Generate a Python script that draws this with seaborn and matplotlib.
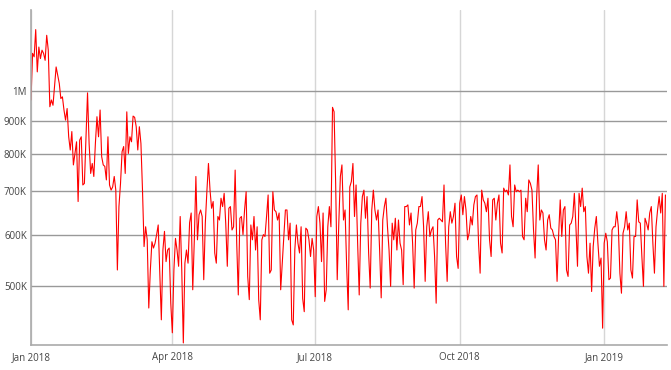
import matplotlib
matplotlib.use("Agg")
import matplotlib.pyplot as plt
import matplotlib.dates as mdates
import matplotlib.ticker as mticker
import seaborn as sns
import pandas as pd

# daily values in thousands, Jan 1 2018 onwards
vals_k = [
    969, 1144, 1130, 1245, 1071, 1170, 1123, 1157, 1144, 1116,
    1220, 1157, 946, 969, 951, 1016, 1090, 1059, 1028, 974,
    980, 935, 902, 940, 850, 811, 866, 769, 801, 835,
    675, 840, 850, 716, 720, 850, 994, 830, 746, 773,
    738, 830, 913, 850, 935, 792, 769, 765, 729, 850,
    716, 703, 711, 738, 703, 529, 663, 720, 806, 821,
    746, 929, 801, 850, 835, 915, 911, 881, 811, 881,
    830, 703, 575, 617, 589, 462, 529, 585, 572, 582,
    600, 621, 523, 443, 568, 607, 545, 568, 572, 470,
    423, 529, 592, 568, 536, 640, 529, 408, 542, 568,
    542, 626, 648, 493, 589, 738, 589, 644, 655, 640,
    511, 625, 700, 773, 703, 659, 675, 562, 542, 640,
    632, 683, 663, 695, 625, 536, 659, 663, 610, 617,
    755, 582, 484, 636, 640, 600, 655, 699, 517, 476,
    621, 589, 640, 568, 617, 476, 443, 589, 600, 596,
    640, 691, 523, 529, 699, 655, 651, 632, 648, 493,
    542, 596, 655, 655, 589, 625, 443, 435, 568, 621,
    582, 562, 617, 478, 456, 614, 610, 589, 555, 592,
    568, 481, 640, 663, 625, 545, 648, 473, 493, 617,
    663, 617, 944, 929, 720, 511, 625, 738, 769, 632,
    655, 536, 459, 711, 725, 773, 640, 716, 582, 484,
    625, 687, 703, 636, 687, 562, 496, 655, 703, 655,
    632, 655, 568, 479, 632, 663, 683, 617, 568, 499,
    625, 589, 636, 568, 632, 582, 568, 502, 663, 663,
    667, 621, 648, 582, 496, 610, 625, 663, 663, 687,
    617, 508, 617, 651, 596, 610, 617, 555, 470, 632,
    636, 632, 628, 716, 582, 508, 617, 651, 625, 640,
    671, 555, 532, 671, 691, 644, 687, 655, 589, 603,
    640, 621, 667, 687, 691, 582, 523, 703, 679, 671,
    651, 683, 589, 555, 679, 683, 632, 671, 691, 582,
    562, 708, 699, 703, 691, 769, 640, 617, 716, 699,
    703, 699, 703, 596, 589, 683, 651, 729, 720, 703,
    610, 552, 687, 769, 632, 655, 648, 589, 568, 632,
    644, 614, 610, 596, 589, 508, 600, 679, 596, 655,
    663, 529, 517, 621, 625, 640, 695, 617, 536, 695,
    663, 708, 651, 663, 555, 523, 582, 490, 575, 614,
    640, 582, 536, 552, 430, 582, 603, 585, 511, 514,
    610, 617, 617, 651, 617, 523, 487, 603, 617, 651,
    610, 625, 529, 514, 596, 596, 679, 628, 625, 555,
    499, 636, 625, 610, 648, 663, 582, 523, 617, 655,
    687, 648, 695, 499, 691,
]

y_ticks = [500e3, 600e3, 700e3, 800e3, 900e3, 1e6]
y_labels = ["500K", "600K", "700K", "800K", "900K", "1M"]
x_ticks = ["2018-01-01", "2018-04-01", "2018-07-01", "2018-10-01", "2019-01-01"]
x_labels = ["Jan 2018", "Apr 2018", "Jul 2018", "Oct 2018", "Jan 2019"]

df = pd.DataFrame({
    "date": pd.date_range("2018-01-01", periods=len(vals_k), freq="D"),
    "value": [v * 1000 for v in vals_k],
})

sns.set_style("white")
plt.rcParams["font.family"] = ["Open Sans", "DejaVu Sans"]

fig = plt.figure(figsize=(6.71, 3.70), dpi=100)
ax = fig.add_axes([31 / 671, 25 / 370, 636 / 671, 335 / 370])

sns.lineplot(data=df, x="date", y="value", ax=ax, color="#ff0000", linewidth=0.8)

ax.set_yscale("log")
ax.set_ylim(405e3, 1.335e6)
ax.set_xlim(pd.Timestamp("2018-01-01"), pd.Timestamp("2018-01-01") + pd.Timedelta(days=405))

ax.yaxis.set_major_locator(mticker.FixedLocator(y_ticks))
ax.yaxis.set_major_formatter(mticker.FixedFormatter(y_labels))
ax.yaxis.set_minor_locator(mticker.NullLocator())
xt = [mdates.date2num(pd.Timestamp(t)) for t in x_ticks]
ax.xaxis.set_major_locator(mticker.FixedLocator(xt))
ax.xaxis.set_major_formatter(mticker.FixedFormatter(x_labels))
ax.xaxis.set_minor_locator(mticker.NullLocator())

ax.grid(axis="y", color="#999999", linewidth=1.0)
ax.grid(axis="x", color="#d6d6d6", linewidth=1.0)
ax.set_axisbelow(True)

for s in ["top", "right"]:
    ax.spines[s].set_visible(False)
ax.spines["left"].set_color("#aaaaaa")
ax.spines["bottom"].set_color("#aaaaaa")
ax.spines["left"].set_linewidth(1.2)
ax.spines["bottom"].set_linewidth(1.2)

ax.tick_params(axis="both", length=0, labelsize=7, labelcolor="#444444")
ax.tick_params(axis="y", pad=3)
ax.tick_params(axis="x", pad=5)
ax.set_xlabel("")
ax.set_ylabel("")

fig.savefig("out.png", dpi=100, facecolor="white")
